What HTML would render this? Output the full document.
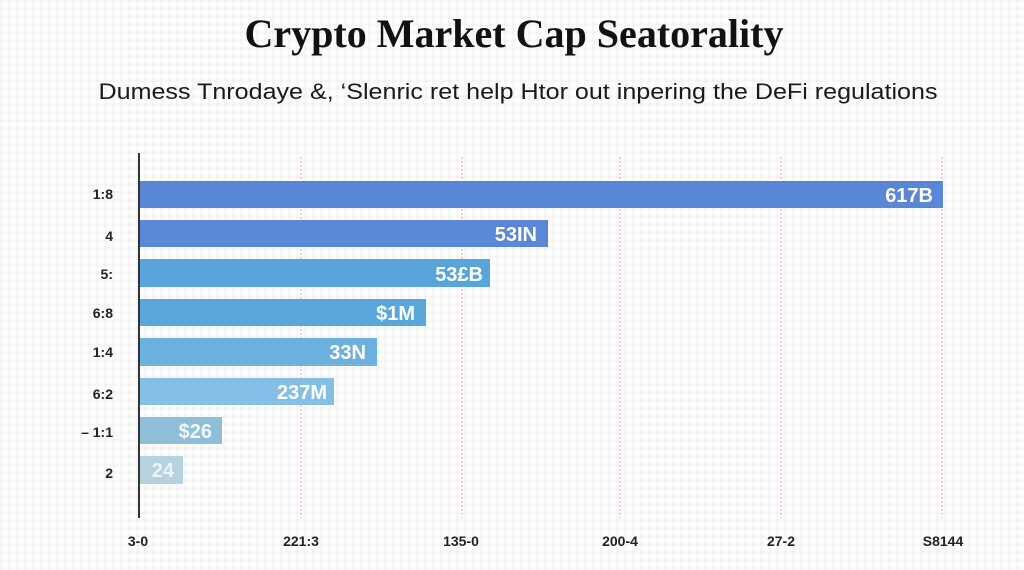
<!DOCTYPE html>
<html>
<head>
<meta charset="utf-8">
<style>
  html,body{margin:0;padding:0;}
  body{width:1024px;height:570px;overflow:hidden;
    background-color:#ffffff;
    background-image:
      repeating-linear-gradient(0deg, rgba(228,228,228,0.28) 0px, rgba(228,228,228,0.28) 3px, transparent 3px, transparent 8px),
      repeating-linear-gradient(90deg, rgba(228,228,228,0.28) 0px, rgba(228,228,228,0.28) 3px, transparent 3px, transparent 8px);
  }
  svg{position:absolute;left:0;top:0;}
</style>
</head>
<body>
<svg width="1024" height="570" viewBox="0 0 1024 570" xmlns="http://www.w3.org/2000/svg">
  <text x="514" y="47" text-anchor="middle" font-family="'Liberation Serif', serif" font-weight="bold" font-size="40" fill="#111" textLength="539" lengthAdjust="spacingAndGlyphs">Crypto Market Cap Seatorality</text>
  <text x="518" y="99" text-anchor="middle" font-family="'Liberation Sans', sans-serif" font-size="22" fill="#1a1a1a" textLength="839" lengthAdjust="spacingAndGlyphs">Dumess Tnrodaye &amp;, ‘Slenric ret help Htor out inpering the DeFi regulations</text>

  <g stroke="#e8998a" stroke-width="1" stroke-dasharray="2,2" opacity="0.9">
    <line x1="301" y1="157" x2="301" y2="518"/>
    <line x1="462" y1="157" x2="462" y2="518"/>
    <line x1="620" y1="157" x2="620" y2="518"/>
    <line x1="781" y1="157" x2="781" y2="518"/>
    <line x1="942" y1="157" x2="942" y2="518"/>
  </g>

  <rect x="140" y="181" width="803" height="27" fill="#5a86d6"/>
  <rect x="140" y="220" width="408" height="27" fill="#5a87d6"/>
  <rect x="140" y="259" width="350" height="28" fill="#58a5db"/>
  <rect x="140" y="299" width="286" height="27" fill="#5aa7dc"/>
  <rect x="140" y="338" width="237" height="28" fill="#6db1de"/>
  <rect x="140" y="378" width="194" height="27" fill="#86bfe5"/>
  <rect x="140" y="417" width="82" height="27" fill="#8fbed8"/>
  <rect x="140" y="456" width="43" height="28" fill="#b6d2de"/>

  <line x1="139" y1="153" x2="139" y2="518" stroke="#333" stroke-width="2"/>

  <g font-family="'Liberation Sans', sans-serif" font-weight="bold" font-size="20" fill="#ffffff" text-anchor="end">
    <text x="933" y="202">617B</text>
    <text x="537" y="241">53IN</text>
    <text x="483" y="281">53£B</text>
    <text x="415" y="320">$1M</text>
    <text x="366" y="359">33N</text>
    <text x="327" y="399">237M</text>
    <text x="212" y="438" fill="#f3f7fa">$26</text>
    <text x="174" y="477" fill="#eef3f6">24</text>
  </g>

  <g font-family="'Liberation Sans', sans-serif" font-weight="bold" font-size="14" fill="#222" text-anchor="end">
    <text x="113" y="199">1:8</text>
    <text x="113" y="241">4</text>
    <text x="113" y="279">5:</text>
    <text x="113" y="318">6:8</text>
    <text x="113" y="357">1:4</text>
    <text x="113" y="399">6:2</text>
    <text x="113" y="437">–  1:1</text>
    <text x="113" y="478">2</text>
  </g>

  <g font-family="'Liberation Sans', sans-serif" font-weight="bold" font-size="14" fill="#222" text-anchor="middle">
    <text x="138" y="546">3-0</text>
    <text x="301" y="546">221:3</text>
    <text x="461" y="546">135-0</text>
    <text x="620" y="546">200-4</text>
    <text x="781" y="546">27-2</text>
    <text x="943" y="546">S8144</text>
  </g>
</svg>
</body>
</html>
